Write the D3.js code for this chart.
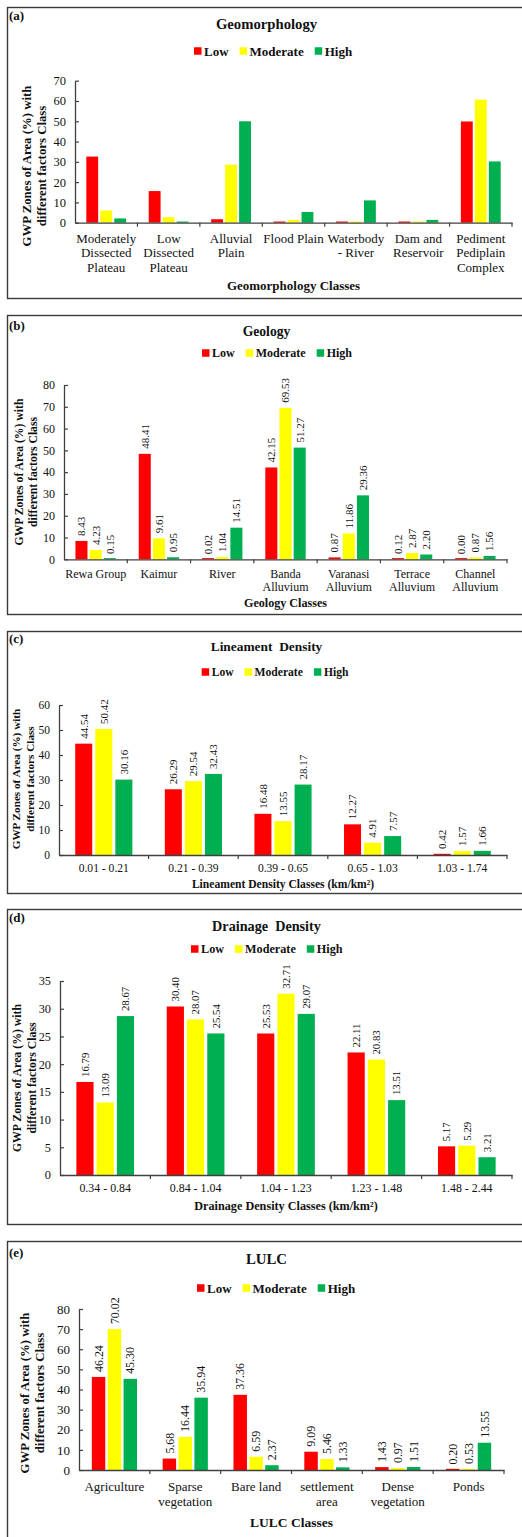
<!DOCTYPE html>
<html>
<head>
<meta charset="utf-8">
<script src="https://cdn.jsdelivr.net/npm/d3@7"></script>
<style>
  html, body { margin: 0; padding: 0; background: #fff; }
  svg { display: block; }
  text { font-family: "Liberation Serif", "Times New Roman", serif; fill: #111; }
</style>
</head>
<body>
<svg id="chart" width="522" height="1537"></svg>
<script>
// ---------------- DATA ----------------
const seriesNames = ["Low", "Moderate", "High"];
const seriesColors = ["#FF0000", "#FFFF00", "#00B050"];

// (a) Geomorphology
const geomorphologyClasses = ["Moderately\nDissected\nPlateau", "Low\nDissected\nPlateau", "Alluvial\nPlain", "Flood Plain", "Waterbody\n- River", "Dam and\nReservoir", "Pediment\nPediplain\nComplex"];
const geomorphologyLow      = [32.6, 15.6, 1.7, 0.2, 0.2, 0.2, 49.9];
const geomorphologyModerate = [6.0, 2.7, 28.6, 1.4, 0.2, 0.2, 60.7];
const geomorphologyHigh     = [2.1, 0.3, 50.0, 5.3, 11.0, 1.4, 30.2];
const geomorphologyTicks    = [0, 10, 20, 30, 40, 50, 60, 70];

// (b) Geology
const geologyClasses  = ["Rewa Group", "Kaimur", "River", "Banda\nAlluvium", "Varanasi\nAlluvium", "Terrace\nAlluvium", "Channel\nAlluvium"];
const geologyLow      = [8.43, 48.41, 0.02, 42.15, 0.87, 0.12, 0.00];
const geologyModerate = [4.23, 9.61, 1.04, 69.53, 11.86, 2.87, 0.87];
const geologyHigh     = [0.15, 0.95, 14.51, 51.27, 29.36, 2.20, 1.56];
const geologyTicks    = [0, 10, 20, 30, 40, 50, 60, 70, 80];

// (c) Lineament Density
const lineamentClasses  = ["0.01 - 0.21", "0.21 - 0.39", "0.39 - 0.65", "0.65 - 1.03", "1.03 - 1.74"];
const lineamentLow      = [44.54, 26.29, 16.48, 12.27, 0.42];
const lineamentModerate = [50.42, 29.54, 13.55, 4.91, 1.57];
const lineamentHigh     = [30.16, 32.43, 28.17, 7.57, 1.66];
const lineamentTicks    = [0, 10, 20, 30, 40, 50, 60];

// (d) Drainage Density
const drainageClasses  = ["0.34 - 0.84", "0.84 - 1.04", "1.04 - 1.23", "1.23 - 1.48", "1.48 - 2.44"];
const drainageLow      = [16.79, 30.40, 25.53, 22.11, 5.17];
const drainageModerate = [13.09, 28.07, 32.71, 20.83, 5.29];
const drainageHigh     = [28.67, 25.54, 29.07, 13.51, 3.21];
const drainageTicks    = [0, 5, 10, 15, 20, 25, 30, 35];

// (e) LULC
const lulcClasses  = ["Agriculture", "Sparse\nvegetation", "Bare land", "settlement\narea", "Dense\nvegetation", "Ponds"];
const lulcLow      = [46.24, 5.68, 37.36, 9.09, 1.43, 0.20];
const lulcModerate = [70.02, 16.44, 6.59, 5.46, 0.97, 0.53];
const lulcHigh     = [45.30, 35.94, 2.37, 1.33, 1.51, 13.55];
const lulcTicks    = [0, 10, 20, 30, 40, 50, 60, 70, 80];

const yAxisTitleLines = ["GWP Zones of Area (%) with", "different factors Class"];

// ---------------- PANELS ----------------
const panels = [
  { tag: "(a)", title: "Geomorphology", xTitle: "Geomorphology Classes",
    cats: geomorphologyClasses, series: [geomorphologyLow, geomorphologyModerate, geomorphologyHigh],
    ticks: geomorphologyTicks, showLabels: false,
    L: { top: 7, bottom: 298, x0: 75, x1: 512, yTop: 80.7, yBot: 222.7, tagY: 15, titleY: 24, legendX: 194, legendY: 51,
         catY: 238, catLH: 14.5, xTitleY: 285, yTitleX: [27, 42], yTitleY: 166,
         fTick: 12.5, fCat: 13, fTitle: 14.7, fLegend: 13, fYTitle: 12.8, fXTitle: 13, fData: 11 } },
  { tag: "(b)", title: "Geology", xTitle: "Geology Classes",
    cats: geologyClasses, series: [geologyLow, geologyModerate, geologyHigh],
    ticks: geologyTicks, showLabels: true,
    L: { top: 315, bottom: 614, x0: 64, x1: 507, yTop: 385, yBot: 559.3, tagY: 325, titleY: 331, legendX: 202, legendY: 353,
         catY: 574, catLH: 13, xTitleY: 603, yTitleX: [18.5, 33], yTitleY: 472,
         fTick: 12, fCat: 12, fTitle: 13.6, fLegend: 12, fYTitle: 11.7, fXTitle: 12.1, fData: 11 } },
  { tag: "(c)", title: "Lineament  Density", xTitle: "Lineament Density Classes (km/km\u00B2)",
    cats: lineamentClasses, series: [lineamentLow, lineamentModerate, lineamentHigh],
    ticks: lineamentTicks, showLabels: true,
    L: { top: 631, bottom: 893, x0: 59, x1: 507, yTop: 705, yBot: 855, tagY: 638, titleY: 646, legendX: 201.7, legendY: 672,
         catY: 868, catLH: 13, xTitleY: 884, yTitleX: [16, 30], yTitleY: 779,
         fTick: 11.5, fCat: 11.6, fTitle: 13.4, fLegend: 11.6, fYTitle: 11.2, fXTitle: 11.6, fData: 11 } },
  { tag: "(d)", title: "Drainage  Density", xTitle: "Drainage Density Classes (km/km\u00B2)",
    cats: drainageClasses, series: [drainageLow, drainageModerate, drainageHigh],
    ticks: drainageTicks, showLabels: true,
    L: { top: 909, bottom: 1224, x0: 60, x1: 512, yTop: 981, yBot: 1175, tagY: 917, titleY: 926, legendX: 191, legendY: 949,
         catY: 1188, catLH: 13, xTitleY: 1206, yTitleX: [17, 32], yTitleY: 1078,
         fTick: 12.3, fCat: 11.9, fTitle: 14.2, fLegend: 12.2, fYTitle: 11.8, fXTitle: 12.2, fData: 10.8 } },
  { tag: "(e)", title: "LULC", xTitle: "LULC Classes",
    cats: lulcClasses, series: [lulcLow, lulcModerate, lulcHigh],
    ticks: lulcTicks, showLabels: true,
    L: { top: 1241, bottom: 1560, x0: 79, x1: 504, yTop: 1309, yBot: 1470, tagY: 1252, titleY: 1259, legendX: 197, legendY: 1288,
         catY: 1486, catLH: 15, xTitleY: 1522, yTitleX: [25, 40], yTitleY: 1393,
         fTick: 13, fCat: 13, fTitle: 14.8, fLegend: 13, fYTitle: 12.8, fXTitle: 13.5, fData: 11.9 } }
];

const svg = d3.select("#chart");
const axisColor = "#404040";

function drawPanel(p) {
  const L = p.L;
  const g = svg.append("g");

  // border
  g.append("rect")
    .attr("x", 7.5).attr("y", L.top + 0.5)
    .attr("width", 540).attr("height", L.bottom - L.top)
    .attr("fill", "none").attr("stroke", "#3a3a3a").attr("stroke-width", 1.4);

  // tag
  g.append("text").attr("x", 9).attr("y", L.tagY).attr("dy", "0.35em")
    .attr("font-weight", "bold").attr("font-size", 13).text(p.tag);

  // title
  g.append("text").attr("x", 266.5).attr("y", L.titleY).attr("dy", "0.35em")
    .attr("text-anchor", "middle").attr("font-weight", "bold").attr("font-size", L.fTitle)
    .style("white-space", "pre").text(p.title);

  // legend
  let lx = L.legendX;
  const sq = 7.5;
  seriesNames.forEach((name, i) => {
    g.append("rect").attr("x", lx).attr("y", L.legendY - sq / 2).attr("width", sq).attr("height", sq)
      .attr("fill", seriesColors[i]);
    const t = g.append("text").attr("x", lx + sq + 2.5).attr("y", L.legendY).attr("dy", "0.35em")
      .attr("font-weight", "bold").attr("font-size", L.fLegend).text(name);
    lx += sq + 2.5 + t.node().getComputedTextLength() + 11;
  });

  // scales
  const x = d3.scaleBand().domain(p.cats).range([L.x0, L.x1]).paddingInner(0).paddingOuter(0);
  const yMax = p.ticks[p.ticks.length - 1];
  const y = d3.scaleLinear().domain([0, yMax]).range([L.yBot, L.yTop]);
  const bw = x.bandwidth();
  const barW = bw * 0.19;
  const gap = bw * 0.034;

  // bars
  p.cats.forEach((c, ci) => {
    p.series.forEach((vals, si) => {
      const v = vals[ci];
      const cx = x(c) + bw / 2 + (si - 1) * (barW + gap);
      const h = Math.max(L.yBot - y(v), 1.2);
      g.append("rect")
        .attr("x", cx - barW / 2).attr("y", L.yBot - h)
        .attr("width", barW).attr("height", h)
        .attr("fill", seriesColors[si]);
      if (p.showLabels) {
        g.append("text")
          .attr("transform", `translate(${cx},${y(v) - 5}) rotate(-90)`)
          .attr("dy", "0.35em")
          .attr("font-size", L.fData)
          .text(v.toFixed(2));
      }
    });
  });

  // y axis (ticks inside)
  const yAxis = d3.axisLeft(y).tickValues(p.ticks).tickSizeInner(-4).tickSizeOuter(0).tickPadding(9)
    .tickFormat(d3.format("d"));
  const ya = g.append("g").attr("transform", `translate(${L.x0},0)`).call(yAxis);
  ya.select(".domain").attr("stroke", axisColor).attr("stroke-width", 1.3);
  ya.selectAll(".tick line").attr("stroke", axisColor).attr("stroke-width", 1.2);
  ya.selectAll(".tick text").attr("font-size", L.fTick).attr("font-family", '"Liberation Serif", serif').attr("fill", "#111");

  // x axis (domain line only), boundary ticks drawn from band positions
  const xAxis = d3.axisBottom(x).tickSize(0).tickFormat("");
  const xa = g.append("g").attr("transform", `translate(0,${L.yBot})`).call(xAxis);
  xa.select(".domain").attr("stroke", axisColor).attr("stroke-width", 1.3);
  xa.selectAll(".tick").remove();
  const bounds = p.cats.map(c => x(c)).concat([x(p.cats[p.cats.length - 1]) + bw]).slice(1);
  xa.selectAll("line.bt").data(bounds).enter().append("line")
    .attr("x1", d => d).attr("x2", d => d).attr("y1", 0).attr("y2", 4)
    .attr("stroke", axisColor).attr("stroke-width", 1.2);

  // category labels
  p.cats.forEach(c => {
    const lines = c.split("\n");
    const t = g.append("text").attr("text-anchor", "middle").attr("font-size", L.fCat);
    lines.forEach((ln, li) => {
      t.append("tspan").attr("x", x(c) + bw / 2).attr("y", L.catY + li * L.catLH).attr("dy", "0.35em").text(ln);
    });
  });

  // x-axis title
  g.append("text").attr("x", (L.x0 + L.x1) / 2).attr("y", L.xTitleY).attr("dy", "0.35em")
    .attr("text-anchor", "middle").attr("font-weight", "bold").attr("font-size", L.fXTitle).text(p.xTitle);

  // y-axis title
  yAxisTitleLines.forEach((ln, li) => {
    g.append("text")
      .attr("transform", `translate(${L.yTitleX[li]},${L.yTitleY}) rotate(-90)`)
      .attr("dy", "0.35em").attr("text-anchor", "middle")
      .attr("font-weight", "bold").attr("font-size", L.fYTitle).text(ln);
  });
}

panels.forEach(drawPanel);
</script>
</body>
</html>
